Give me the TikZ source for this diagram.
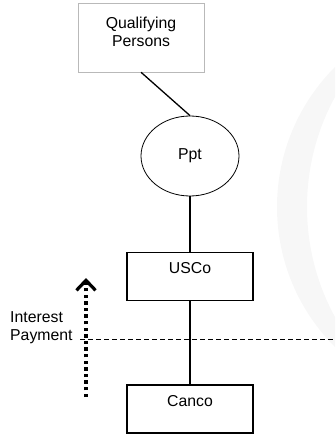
\documentclass[tikz,border=0pt]{standalone}
\usepackage{fontspec}
\setmainfont{Liberation Sans}
\usetikzlibrary{shapes.geometric,arrows.meta,positioning}
\tikzstyle{holder} = [rectangle, draw=gray!55, line width=0.5pt, align=center, inner sep=0pt, minimum width=126pt, text height=43pt, text depth=26pt]
\tikzstyle{partner} = [ellipse, draw, line width=0.8pt, inner sep=0pt, minimum width=98pt, minimum height=80pt]
\tikzstyle{corp} = [rectangle, draw, line width=1.8pt, inner sep=0pt, minimum width=126pt, text height=21pt, text depth=27pt]
\tikzstyle{link} = [draw, line width=1.3pt]
\tikzstyle{note} = [align=left, inner sep=0pt, anchor=south west]
\tikzstyle{flow} = [line width=3.2pt, dash pattern=on 3.4pt off 3.2pt, -{Straight Barb[length=10pt,width=19pt]}]

\begin{document}
\begin{tikzpicture}[x=1pt, y=-1pt, font=\fontsize{15.8}{18}\selectfont]
\useasboundingbox (0,0) rectangle (335,434);
% faint watermark at the right
\begin{scope}
	\clip (0,0) rectangle (335,434);
	\fill[gray!6, even odd rule] (475,207) circle (198pt) (537,207) circle (230pt);
\end{scope}

\node[holder] (qp) at (141,37.5) {Qualifying\\Persons};
\node[partner] (ppt) at (190,156) {Ppt};
\node[corp, below of=ppt, node distance=120.5pt] (usco) {USCo};
\node[corp, below of=usco, node distance=132.5pt] (canco) {Canco};

\draw[link] (qp.south) -- (ppt.north);
\draw[link] (ppt) -- (usco);
\draw[link] (usco) -- (canco);

% interest payment crossing
\node[note] (pay) at (10,343.5) {Interest\\Payment};
\coordinate (cut) at (80,339);
\coordinate (cutend) at (335,339);
\draw[line width=0.8pt, dash pattern=on 5pt off 3pt] (cut) -- (cutend);
\coordinate (flowlo) at (86,397);
\coordinate (flowhi) at (86,278);
\draw[flow] (flowlo) -- (flowhi);
\end{tikzpicture}
\end{document}
